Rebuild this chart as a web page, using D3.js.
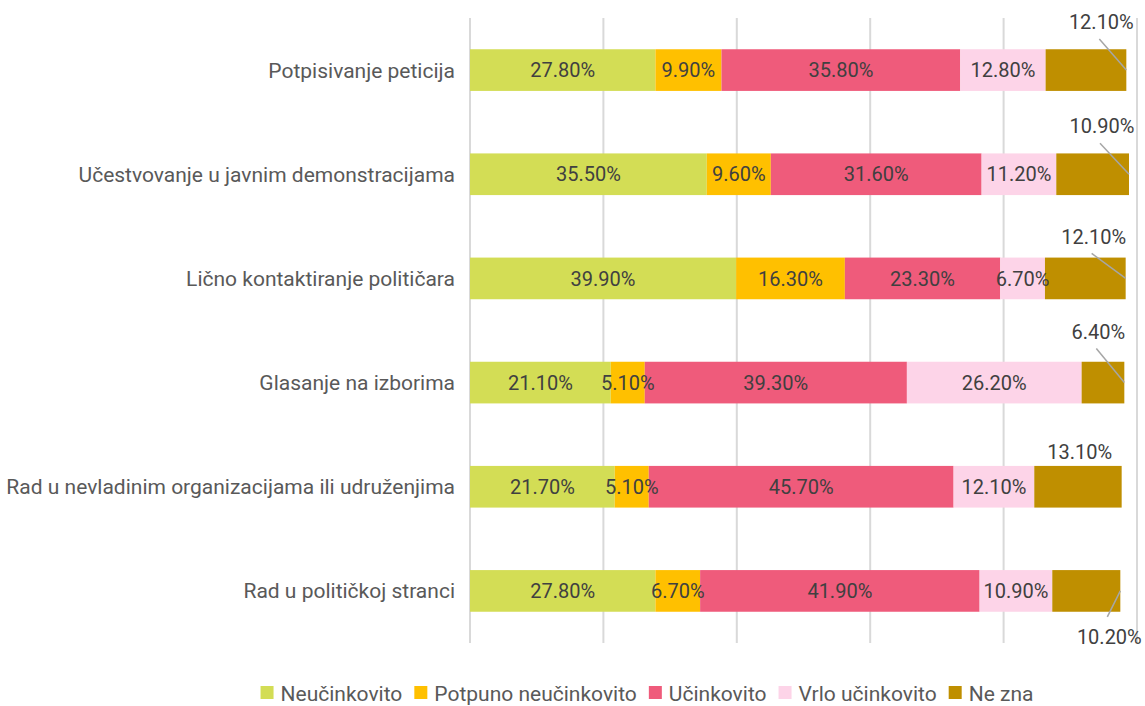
<!DOCTYPE html>
<html>
<head>
<meta charset="utf-8">
<script src="https://cdn.jsdelivr.net/npm/d3@7"></script>
<style>
  body { margin: 0; background: #fff; }
  text { font-family: Roboto, "DejaVu Sans Condensed", sans-serif; }
</style>
</head>
<body>
<div id="chart"></div>
<script>
// data
var categories = [
  'Potpisivanje peticija',
  'Učestvovanje u javnim demonstracijama',
  'Lično kontaktiranje političara',
  'Glasanje na izborima',
  'Rad u nevladinim organizacijama ili udruženjima',
  'Rad u političkoj stranci'
];
var seriesNames = ['Neučinkovito', 'Potpuno neučinkovito', 'Učinkovito', 'Vrlo učinkovito', 'Ne zna'];
var neucinkovito = [27.8, 35.5, 39.9, 21.1, 21.7, 27.8];
var potpunoNeucinkovito = [9.9, 9.6, 16.3, 5.1, 5.1, 6.7];
var ucinkovito = [35.8, 31.6, 23.3, 39.3, 45.7, 41.9];
var vrloUcinkovito = [12.8, 11.2, 6.7, 26.2, 12.1, 10.9];
var neZna = [12.1, 10.9, 12.1, 6.4, 13.1, 10.2];
var xTicks = [0, 20, 40, 60, 80, 100];

// where the "Ne zna" labels sit relative to the bar end (dx, dy) - layout only
var neZnaLabelOffset = [[-25, -48], [-27, -48], [-32, -42], [-26, -51], [-42, -35], [-11, 46]];

var colors = ['#d3dd55', '#ffc000', '#ef5b7b', '#fdd4e8', '#bf8f00'];

var width = 1145, height = 706;
var plotLeft = 470, plotRight = 1137, plotTop = 18, plotBottom = 643;
var fontSize = 20;
var labelFontSize = 21;

var svg = d3.select('#chart').append('svg')
  .attr('width', width)
  .attr('height', height);

var x = d3.scaleLinear().domain([0, 100]).range([plotLeft, plotRight]);
var y = d3.scaleBand().domain(categories).range([plotTop, plotBottom])
  .paddingInner(0.6).paddingOuter(0.3);

// gridlines
svg.append('g').selectAll('line')
  .data(xTicks)
  .enter().append('line')
  .attr('x1', function (d) { return x(d); })
  .attr('x2', function (d) { return x(d); })
  .attr('y1', plotTop)
  .attr('y2', plotBottom)
  .attr('stroke', '#d9d9d9')
  .attr('stroke-width', 2);

// stacked data
var rows = categories.map(function (c, i) {
  return {
    cat: c,
    'Neučinkovito': neucinkovito[i],
    'Potpuno neučinkovito': potpunoNeucinkovito[i],
    'Učinkovito': ucinkovito[i],
    'Vrlo učinkovito': vrloUcinkovito[i],
    'Ne zna': neZna[i]
  };
});
var stacked = d3.stack().keys(seriesNames)(rows);

var layers = svg.append('g').selectAll('g')
  .data(stacked)
  .enter().append('g')
  .attr('fill', function (d, i) { return colors[i]; });

layers.selectAll('rect')
  .data(function (d) { return d; })
  .enter().append('rect')
  .attr('x', function (d) { return x(d[0]); })
  .attr('y', function (d) { return y(d.data.cat); })
  .attr('width', function (d) { return x(d[1]) - x(d[0]); })
  .attr('height', y.bandwidth());

function fmt(v) { return v.toFixed(2) + '%'; }

// labels inside bars (first four series)
stacked.slice(0, 4).forEach(function (layer) {
  svg.append('g').selectAll('text')
    .data(layer)
    .enter().append('text')
    .attr('x', function (d) { return (x(d[0]) + x(d[1])) / 2; })
    .attr('y', function (d) { return y(d.data.cat) + y.bandwidth() / 2; })
    .attr('dy', '0.36em')
    .attr('text-anchor', 'middle')
    .attr('font-size', fontSize)
    .attr('fill', '#404040')
    .text(function (d) { return fmt(d[1] - d[0]); });
});

// "Ne zna" labels outside with leader lines
stacked[4].forEach(function (d, i) {
  var endX = x(d[1]);
  var cy = y(d.data.cat) + y.bandwidth() / 2;
  var off = neZnaLabelOffset[i];
  var lx = endX + off[0], ly = cy + off[1];
  if (i !== 4) {
    var sy = off[1] < 0 ? ly + 17 : ly - 20;
    svg.append('line')
      .attr('x1', lx - 2).attr('y1', sy)
      .attr('x2', endX).attr('y2', cy)
      .attr('stroke', '#a6a6a6')
      .attr('stroke-width', 1.5);
  }
  svg.append('text')
    .attr('x', lx)
    .attr('y', ly)
    .attr('dy', '0.36em')
    .attr('text-anchor', 'middle')
    .attr('font-size', fontSize)
    .attr('fill', '#404040')
    .text(fmt(d[1] - d[0]));
});

// category labels
svg.append('g').selectAll('text')
  .data(categories)
  .enter().append('text')
  .attr('x', 455)
  .attr('y', function (d) { return y(d) + y.bandwidth() / 2; })
  .attr('dy', '0.36em')
  .attr('text-anchor', 'end')
  .attr('font-size', labelFontSize)
  .attr('fill', '#595959')
  .text(function (d) { return d; });

// legend
var legend = svg.append('g');
var items = legend.selectAll('g')
  .data(seriesNames)
  .enter().append('g');
items.append('rect')
  .attr('width', 13).attr('height', 13)
  .attr('y', -7)
  .attr('fill', function (d, i) { return colors[i]; });
items.append('text')
  .attr('x', 20)
  .attr('dy', '0.36em')
  .attr('font-size', labelFontSize)
  .attr('fill', '#595959')
  .text(function (d) { return d; });

var pos = 0;
items.each(function () {
  var g = d3.select(this);
  g.attr('transform', 'translate(' + pos + ',0)');
  pos += 20 + g.select('text').node().getComputedTextLength() + 12;
});
var totalW = pos - 12;
legend.attr('transform', 'translate(' + (647 - totalW / 2) + ',693)');
</script>
</body>
</html>
